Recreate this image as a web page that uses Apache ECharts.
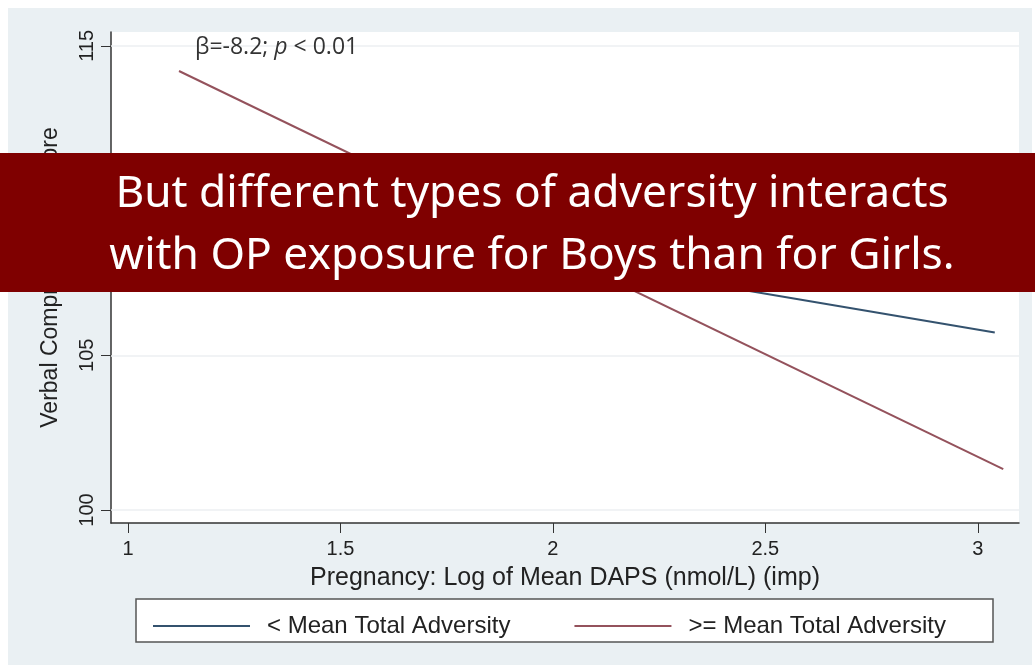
<!DOCTYPE html>
<html>
<head>
<meta charset="utf-8">
<script src="https://cdn.jsdelivr.net/npm/echarts@6/dist/echarts.min.js"></script>
<style>
  html, body { margin: 0; padding: 0; background: #fff; }
  #chart { width: 1035px; height: 670px; }
</style>
</head>
<body>
<div id="chart"></div>
<script>
// values
const seriesNames = ['< Mean Total Adversity', '>= Mean Total Adversity']
const lowAdvX = [1.12, 3.04]
const lowAdvY = [110.2, 105.74]
const highAdvX = [1.12, 3.06]
const highAdvY = [114.19, 101.32]
const xTicks = [1, 1.5, 2, 2.5, 3]
const yTicks = [100, 105, 110, 115]
const bannerLines = ['But different types of adversity interacts', 'with OP exposure for Boys than for Girls.']

const chartFont = 'Liberation Sans'
const myChart = echarts.init(document.getElementById('chart'))

myChart.setOption({
  animation: false,
  backgroundColor: '#fff',
  grid: {
    left: 111,
    right: 16,
    top: 32,
    bottom: 147,
    show: true,
    backgroundColor: '#fff',
    borderWidth: 0
  },
  legend: {
    data: seriesNames,
    left: 148,
    top: 609,
    icon: 'rect',
    itemWidth: 97,
    itemHeight: 2,
    itemGap: 64,
    textStyle: {
      fontFamily: chartFont,
      fontSize: 24,
      color: '#222',
      padding: [0, 0, 0, 12]
    }
  },
  xAxis: {
    type: 'value',
    min: 0.96,
    max: 3.097,
    name: 'Pregnancy: Log of Mean DAPS (nmol/L) (imp)',
    nameLocation: 'middle',
    nameGap: 43,
    nameTextStyle: { fontFamily: chartFont, fontSize: 25, color: '#222' },
    axisLine: { onZero: false, lineStyle: { color: '#333', width: 1.5 } },
    axisTick: { customValues: xTicks, length: 10, lineStyle: { color: '#333' } },
    axisLabel: {
      customValues: xTicks,
      margin: 16,
      fontFamily: chartFont,
      fontSize: 20,
      color: '#222'
    },
    splitLine: { show: false }
  },
  yAxis: {
    type: 'value',
    min: 99.58,
    max: 115.45,
    name: 'Verbal Comprehension Score',
    nameLocation: 'middle',
    nameRotate: 90,
    nameGap: 49,
    nameTextStyle: { fontFamily: chartFont, fontSize: 23, color: '#222' },
    axisLine: { show: true, onZero: false, lineStyle: { color: '#333', width: 1.5 } },
    axisTick: { show: true, customValues: yTicks, length: 10, lineStyle: { color: '#333' } },
    axisLabel: {
      customValues: yTicks,
      rotate: 90,
      margin: 14,
      fontFamily: chartFont,
      fontSize: 20,
      color: '#222'
    },
    splitLine: { show: false }
  },
  series: [
    {
      // faint horizontal gridlines at the y ticks
      name: 'grid',
      type: 'line',
      data: [],
      z: 1,
      markLine: {
        silent: true,
        z: 1,
        symbol: 'none',
        label: { show: false },
        lineStyle: { color: '#eceff2', width: 1.5, type: 'solid' },
        data: yTicks.map(v => ({ yAxis: v }))
      }
    },
    {
      name: seriesNames[0],
      type: 'line',
      symbol: 'none',
      data: lowAdvX.map((x, i) => [x, lowAdvY[i]]),
      lineStyle: { color: '#34526e', width: 2 },
      itemStyle: { color: '#34526e' },
      z: 6
    },
    {
      name: seriesNames[1],
      type: 'line',
      symbol: 'none',
      data: highAdvX.map((x, i) => [x, highAdvY[i]]),
      lineStyle: { color: '#94525c', width: 2 },
      itemStyle: { color: '#94525c' },
      z: 6
    }
  ],
  graphic: [
    // outer panel
    { type: 'rect', z: -10, shape: { x: 8, y: 8, width: 1024, height: 657 }, style: { fill: '#eaf0f3' } },
    // legend box
    { type: 'rect', z: -5, shape: { x: 136, y: 599, width: 857, height: 43 }, style: { fill: '#fff', stroke: '#555', lineWidth: 1.5 } },
    // annotation
    {
      type: 'text', x: 195, y: 47, z: 10,
      style: {
        text: '{a|β=-8.2; }{i|p}{a| < 0.01}',
        verticalAlign: 'middle',
        rich: {
          a: { fontFamily: 'Open Sans', fontSize: 23, fill: '#333' },
          i: { fontFamily: 'Open Sans', fontSize: 23, fontStyle: 'italic', fill: '#333' }
        }
      }
    },
    // banner
    { type: 'rect', z: 20, shape: { x: 0, y: 153, width: 1035, height: 139 }, style: { fill: '#7f0000' } },
    {
      type: 'text', x: 532, y: 195, z: 21, scaleX: 1.03,
      style: { text: bannerLines[0], fontFamily: 'Noto Sans', fontSize: 43, fill: '#fff', textAlign: 'center', textVerticalAlign: 'middle' }
    },
    {
      type: 'text', x: 532, y: 257, z: 21, scaleX: 1.03,
      style: { text: bannerLines[1], fontFamily: 'Noto Sans', fontSize: 43, fill: '#fff', textAlign: 'center', textVerticalAlign: 'middle' }
    }
  ]
})
</script>
</body>
</html>
